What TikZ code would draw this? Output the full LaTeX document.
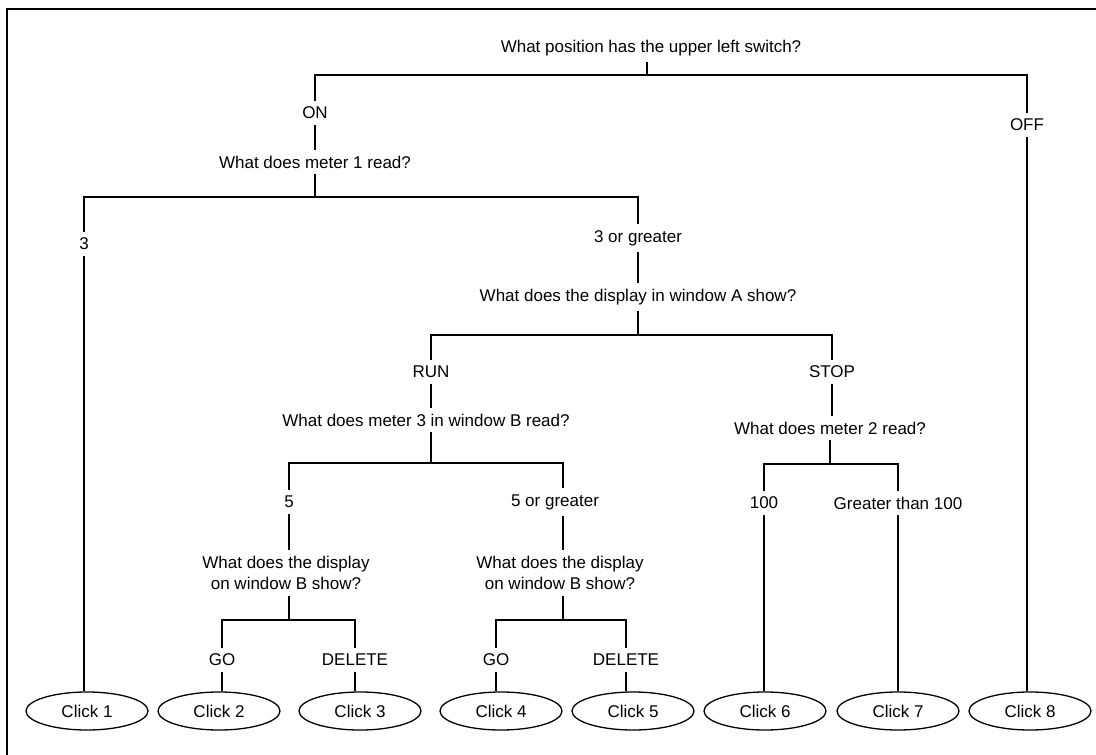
\documentclass[tikz,border=0pt]{standalone}
\usepackage{fontspec}
\setmainfont{Liberation Sans}
\usetikzlibrary{shapes.geometric}
\begin{document}
\begin{tikzpicture}[x=1pt,y=-1pt,
  txt/.style={font=\fontsize{17}{20.5}\selectfont, inner xsep=4pt, inner ysep=6pt},
  leaf/.style={ellipse, draw, line width=1.3pt, minimum width=122pt, minimum height=38pt, inner sep=0pt, font=\fontsize{17}{20}\selectfont},
  conn/.style={line width=1.3pt}]
\useasboundingbox (0,0) rectangle (1096,755);
\fill[white] (0,0) rectangle (1096,755);
\draw[line width=1.3pt] (7,755) -- (7,9) -- (1096,9);
% text nodes
\node[txt] (q1) at (651,48) {What position has the upper left switch?};
\node[txt] (on) at (315,113) {ON};
\node[txt] (off) at (1027,125) {OFF};
\node[txt] (q2) at (315,162) {What does meter 1 read?};
\node[txt] (a3) at (84,244) {3};
\node[txt] (a3g) at (638,238) {3 or greater};
\node[txt] (q3) at (638,297) {What does the display in window A show?};
\node[txt] (run) at (431,372) {RUN};
\node[txt] (stop) at (832,372) {STOP};
\node[txt] (q4) at (426,420) {What does meter 3 in window B read?};
\node[txt] (q5) at (830,428) {What does meter 2 read?};
\node[txt] (a5) at (289,502) {5};
\node[txt] (a5g) at (555,502) {5 or greater};
\node[txt] (a100) at (764,503) {100};
\node[txt] (ag100) at (898,503) {Greater than 100};
\node[txt, align=center] (q6) at (286,573) {What does the display\\on window B show?};
\node[txt, align=center] (q7) at (560,573) {What does the display\\on window B show?};
\node[txt] (go1) at (222,660) {GO};
\node[txt] (del1) at (355,660) {DELETE};
\node[txt] (go2) at (496,660) {GO};
\node[txt] (del2) at (626,660) {DELETE};
% leaves
\node[leaf] (c1) at (87,711) {Click 1};
\node[leaf] (c2) at (219,711) {Click 2};
\node[leaf] (c3) at (360,711) {Click 3};
\node[leaf] (c4) at (501,711) {Click 4};
\node[leaf] (c5) at (633,711) {Click 5};
\node[leaf] (c6) at (765,711) {Click 6};
\node[leaf] (c7) at (898,711) {Click 7};
\node[leaf] (c8) at (1030,711) {Click 8};
% branch points
\coordinate (b1) at (647,75);
\coordinate (b2) at (315,197);
\coordinate (b3) at (638,335);
\coordinate (b4) at (431,463);
\coordinate (b5) at (830,464);
\coordinate (b6) at (289,620);
\coordinate (b7) at (563,620);
% connectors
\draw[conn] (q1.south -| b1) -- (b1);
\draw[conn] (on.north) |- (b1) -| (off.north);
\draw[conn] (on.south) -- (q2.north);
\draw[conn] (off.south) -- (off.south |- c8.north);
\draw[conn] (q2.south) -- (b2);
\draw[conn] (a3.north) |- (b2) -| (a3g.north);
\draw[conn] (a3.south) -- (a3.south |- c1.north);
\draw[conn] (a3g.south) -- (q3.north);
\draw[conn] (q3.south) -- (b3);
\draw[conn] (run.north) |- (b3) -| (stop.north);
\draw[conn] (run.south) -- (run.south |- q4.north);
\draw[conn] (q4.south -| b4) -- (b4);
\draw[conn] (stop.south) -- (stop.south |- q5.north);
\draw[conn] (q5.south) -- (b5);
\draw[conn] (a100.north) |- (b5) -| (ag100.north);
\draw[conn] (a100.south) -- (a100.south |- c6.north);
\draw[conn] (ag100.south) -- (ag100.south |- c7.north);
\draw[conn] (a5.north) |- (b4) -| (a5g.north -| b7);
\draw[conn] (a5.south) -- (a5.south |- q6.north);
\draw[conn] (a5g.south -| b7) -- (q7.north -| b7);
\draw[conn] (q6.south -| b6) -- (b6);
\draw[conn] (go1.north) |- (b6) -| (del1.north);
\draw[conn] (go1.south) -- (go1.south |- c2.north);
\draw[conn] (del1.south) -- (del1.south |- c3.north);
\draw[conn] (q7.south -| b7) -- (b7);
\draw[conn] (go2.north) |- (b7) -| (del2.north);
\draw[conn] (go2.south) -- (go2.south |- c4.north);
\draw[conn] (del2.south) -- (del2.south |- c5.north);
\end{tikzpicture}
\end{document}
